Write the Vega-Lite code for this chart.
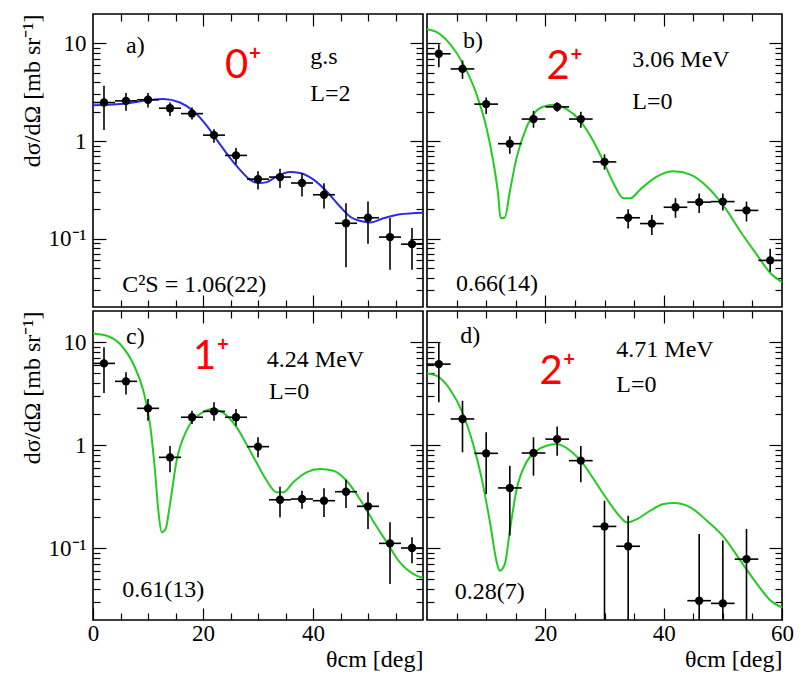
{
"$schema": "https://vega.github.io/schema/vega-lite/v6.json",
"background": "white",
"padding": {"left": 19, "top": 12, "right": 0, "bottom": 0},
"spacing": 0,
"config": {
  "view": {"stroke": "black", "strokeWidth": 1.6},
  "concat": {"spacing": 0},
  "axis": {"domain": false, "grid": false, "labelFont": "Liberation Serif", "titleFont": "Liberation Serif", "labelColor": "black", "titleColor": "black", "tickColor": "black", "tickWidth": 1.2, "titleFontWeight": "normal", "labelOverlap": false}
},
"datasets": {
"pts": [
{"p":"a","t":2,"t0":0,"t1":4,"v":2.48,"lo":1.30,"hi":3.69},
{"p":"a","t":6,"t0":4,"t1":8,"v":2.58,"lo":2.04,"hi":3.1},
{"p":"a","t":10,"t0":8,"t1":12,"v":2.65,"lo":2.2,"hi":3.1},
{"p":"a","t":14,"t0":12,"t1":16,"v":2.17,"lo":1.81,"hi":2.48},
{"p":"a","t":18,"t0":16,"t1":20,"v":1.91,"lo":1.66,"hi":2.2},
{"p":"a","t":22,"t0":20,"t1":24,"v":1.15,"lo":0.96,"hi":1.32},
{"p":"a","t":26,"t0":24,"t1":28,"v":0.713,"lo":0.58,"hi":0.85},
{"p":"a","t":30,"t0":28,"t1":32,"v":0.408,"lo":0.32,"hi":0.49},
{"p":"a","t":34,"t0":32,"t1":36,"v":0.428,"lo":0.33,"hi":0.52},
{"p":"a","t":38,"t0":36,"t1":40,"v":0.372,"lo":0.27,"hi":0.47},
{"p":"a","t":42,"t0":40,"t1":44,"v":0.282,"lo":0.204,"hi":0.37},
{"p":"a","t":46,"t0":44,"t1":48,"v":0.144,"lo":0.051,"hi":0.231},
{"p":"a","t":50,"t0":48,"t1":52,"v":0.164,"lo":0.089,"hi":0.24},
{"p":"a","t":54,"t0":52,"t1":56,"v":0.104,"lo":0.048,"hi":0.163},
{"p":"a","t":58,"t0":56,"t1":60,"v":0.088,"lo":0.048,"hi":0.129},
{"p":"b","t":2,"t0":0,"t1":4,"v":7.83,"lo":5.7,"hi":9.8},
{"p":"b","t":6,"t0":4,"t1":8,"v":5.48,"lo":4.33,"hi":6.68},
{"p":"b","t":10,"t0":8,"t1":12,"v":2.39,"lo":1.89,"hi":2.8},
{"p":"b","t":14,"t0":12,"t1":16,"v":0.94,"lo":0.74,"hi":1.12},
{"p":"b","t":18,"t0":16,"t1":20,"v":1.68,"lo":1.37,"hi":2.04},
{"p":"b","t":22,"t0":20,"t1":24,"v":2.24,"lo":2.0,"hi":2.5},
{"p":"b","t":26,"t0":24,"t1":28,"v":1.68,"lo":1.37,"hi":2.0},
{"p":"b","t":30,"t0":28,"t1":32,"v":0.612,"lo":0.51,"hi":0.73},
{"p":"b","t":34,"t0":32,"t1":36,"v":0.164,"lo":0.127,"hi":0.2},
{"p":"b","t":38,"t0":36,"t1":40,"v":0.143,"lo":0.109,"hi":0.175},
{"p":"b","t":42,"t0":40,"t1":44,"v":0.21,"lo":0.164,"hi":0.26},
{"p":"b","t":46,"t0":44,"t1":48,"v":0.237,"lo":0.183,"hi":0.29},
{"p":"b","t":50,"t0":48,"t1":52,"v":0.24,"lo":0.195,"hi":0.29},
{"p":"b","t":54,"t0":52,"t1":56,"v":0.195,"lo":0.15,"hi":0.24},
{"p":"b","t":58,"t0":56,"t1":60,"v":0.06,"lo":0.046,"hi":0.079},
{"p":"c","t":2,"t0":0,"t1":4,"v":6.2,"lo":3.2,"hi":8.9},
{"p":"c","t":6,"t0":4,"t1":8,"v":4.15,"lo":3.1,"hi":5.1},
{"p":"c","t":10,"t0":8,"t1":12,"v":2.27,"lo":1.72,"hi":2.8},
{"p":"c","t":14,"t0":12,"t1":16,"v":0.759,"lo":0.543,"hi":0.98},
{"p":"c","t":18,"t0":16,"t1":20,"v":1.86,"lo":1.6,"hi":2.15},
{"p":"c","t":22,"t0":20,"t1":24,"v":2.12,"lo":1.72,"hi":2.6},
{"p":"c","t":26,"t0":24,"t1":28,"v":1.86,"lo":1.54,"hi":2.24},
{"p":"c","t":30,"t0":28,"t1":32,"v":0.964,"lo":0.76,"hi":1.19},
{"p":"c","t":34,"t0":32,"t1":36,"v":0.294,"lo":0.199,"hi":0.394},
{"p":"c","t":38,"t0":36,"t1":40,"v":0.299,"lo":0.24,"hi":0.36},
{"p":"c","t":42,"t0":40,"t1":44,"v":0.288,"lo":0.2,"hi":0.38},
{"p":"c","t":46,"t0":44,"t1":48,"v":0.352,"lo":0.244,"hi":0.46},
{"p":"c","t":50,"t0":48,"t1":52,"v":0.254,"lo":0.153,"hi":0.347},
{"p":"c","t":54,"t0":52,"t1":56,"v":0.111,"lo":0.0447,"hi":0.178},
{"p":"c","t":58,"t0":56,"t1":60,"v":0.1,"lo":0.071,"hi":0.127},
{"p":"d","t":2,"t0":0,"t1":4,"v":6.1,"lo":2.6,"hi":10},
{"p":"d","t":6,"t0":4,"t1":8,"v":1.79,"lo":0.85,"hi":2.69},
{"p":"d","t":10,"t0":8,"t1":12,"v":0.83,"lo":0.334,"hi":1.33},
{"p":"d","t":14,"t0":12,"t1":16,"v":0.383,"lo":0.132,"hi":0.63},
{"p":"d","t":18,"t0":16,"t1":20,"v":0.836,"lo":0.504,"hi":1.19},
{"p":"d","t":22,"t0":20,"t1":24,"v":1.14,"lo":0.787,"hi":1.51},
{"p":"d","t":26,"t0":24,"t1":28,"v":0.705,"lo":0.434,"hi":0.98},
{"p":"d","t":30,"t0":28,"t1":32,"v":0.162,"lo":0.02,"hi":0.288},
{"p":"d","t":34,"t0":32,"t1":36,"v":0.104,"lo":0.02,"hi":0.206},
{"p":"d","t":46,"t0":44,"t1":48,"v":0.0308,"lo":0.02,"hi":0.137},
{"p":"d","t":50,"t0":48,"t1":52,"v":0.029,"lo":0.02,"hi":0.118},
{"p":"d","t":54,"t0":52,"t1":56,"v":0.078,"lo":0.02,"hi":0.153}
],
"curves": [
{"p":"a","t":0,"v":2.33},{"p":"a","t":6.12,"v":2.43},{"p":"a","t":10.36,"v":2.63},{"p":"a","t":12.8,"v":2.69},{"p":"a","t":15.8,"v":2.48},{"p":"a","t":18.2,"v":2.04},{"p":"a","t":20.7,"v":1.43},{"p":"a","t":23.1,"v":0.925},{"p":"a","t":24.9,"v":0.673},{"p":"a","t":26.7,"v":0.51},{"p":"a","t":28.5,"v":0.403},{"p":"a","t":30.1,"v":0.372},{"p":"a","t":31.6,"v":0.38},{"p":"a","t":33.4,"v":0.435},{"p":"a","t":35.8,"v":0.482},{"p":"a","t":37.6,"v":0.471},{"p":"a","t":40.1,"v":0.403},{"p":"a","t":42.5,"v":0.305},{"p":"a","t":44.9,"v":0.214},{"p":"a","t":46.7,"v":0.169},{"p":"a","t":49.1,"v":0.15},{"p":"a","t":50.4,"v":0.147},{"p":"a","t":52.8,"v":0.162},{"p":"a","t":55.8,"v":0.178},{"p":"a","t":60,"v":0.185},
{"p":"b","t":0,"v":14.0},{"p":"b","t":1.58,"v":13.1},{"p":"b","t":3.84,"v":9.93},{"p":"b","t":6.1,"v":6.17},{"p":"b","t":8.36,"v":3.03},{"p":"b","t":10.05,"v":1.37},{"p":"b","t":11.19,"v":0.622},{"p":"b","t":12.03,"v":0.282},{"p":"b","t":12.43,"v":0.162},{"p":"b","t":13.16,"v":0.165},{"p":"b","t":14.0,"v":0.305},{"p":"b","t":15.14,"v":0.673},{"p":"b","t":16.8,"v":1.37},{"p":"b","t":18.5,"v":2.04},{"p":"b","t":20.2,"v":2.3},{"p":"b","t":21.6,"v":2.35},{"p":"b","t":23.6,"v":2.12},{"p":"b","t":25.9,"v":1.61},{"p":"b","t":28.1,"v":1.0},{"p":"b","t":29.8,"v":0.622},{"p":"b","t":31.5,"v":0.372},{"p":"b","t":33.2,"v":0.26},{"p":"b","t":34.4,"v":0.26},{"p":"b","t":36.0,"v":0.318},{"p":"b","t":38.9,"v":0.435},{"p":"b","t":41.7,"v":0.491},{"p":"b","t":44.5,"v":0.453},{"p":"b","t":47.3,"v":0.343},{"p":"b","t":50.2,"v":0.214},{"p":"b","t":53.0,"v":0.118},{"p":"b","t":55.8,"v":0.068},{"p":"b","t":58.1,"v":0.044},{"p":"b","t":60,"v":0.036},
{"p":"c","t":0,"v":12.1},{"p":"c","t":2.48,"v":11.5},{"p":"c","t":4.9,"v":9.57},{"p":"c","t":7.33,"v":6.11},{"p":"c","t":9.15,"v":3.37},{"p":"c","t":10.36,"v":1.6},{"p":"c","t":11.27,"v":0.563},{"p":"c","t":11.88,"v":0.23},{"p":"c","t":12.48,"v":0.142},{"p":"c","t":13.2,"v":0.153},{"p":"c","t":14.0,"v":0.267},{"p":"c","t":15.2,"v":0.705},{"p":"c","t":17.0,"v":1.38},{"p":"c","t":19.45,"v":2.0},{"p":"c","t":21.9,"v":2.24},{"p":"c","t":24.3,"v":1.93},{"p":"c","t":26.1,"v":1.49},{"p":"c","t":27.9,"v":1.02},{"p":"c","t":29.7,"v":0.679},{"p":"c","t":31.6,"v":0.45},{"p":"c","t":33.4,"v":0.347},{"p":"c","t":34.6,"v":0.347},{"p":"c","t":36.4,"v":0.434},{"p":"c","t":38.8,"v":0.543},{"p":"c","t":41.3,"v":0.585},{"p":"c","t":43.7,"v":0.563},{"p":"c","t":46.1,"v":0.45},{"p":"c","t":48.5,"v":0.299},{"p":"c","t":50.9,"v":0.184},{"p":"c","t":53.4,"v":0.114},{"p":"c","t":55.8,"v":0.0726},{"p":"c","t":58.2,"v":0.056},{"p":"c","t":60,"v":0.051},
{"p":"d","t":0,"v":4.95},{"p":"d","t":1.58,"v":4.71},{"p":"d","t":3.84,"v":3.5},{"p":"d","t":6.1,"v":2.0},{"p":"d","t":7.8,"v":1.02},{"p":"d","t":9.2,"v":0.485},{"p":"d","t":10.6,"v":0.184},{"p":"d","t":11.86,"v":0.07},{"p":"d","t":12.3,"v":0.06},{"p":"d","t":13.16,"v":0.07},{"p":"d","t":14.0,"v":0.147},{"p":"d","t":15.1,"v":0.36},{"p":"d","t":16.8,"v":0.679},{"p":"d","t":18.5,"v":0.881},{"p":"d","t":20.2,"v":0.985},{"p":"d","t":21.9,"v":1.02},{"p":"d","t":24.2,"v":0.881},{"p":"d","t":26.4,"v":0.655},{"p":"d","t":28.7,"v":0.418},{"p":"d","t":31.0,"v":0.267},{"p":"d","t":32.7,"v":0.199},{"p":"d","t":33.8,"v":0.177},{"p":"d","t":35.5,"v":0.191},{"p":"d","t":37.7,"v":0.23},{"p":"d","t":40.0,"v":0.267},{"p":"d","t":41.7,"v":0.273},{"p":"d","t":44.5,"v":0.248},{"p":"d","t":47.3,"v":0.184},{"p":"d","t":50.2,"v":0.127},{"p":"d","t":53.0,"v":0.075},{"p":"d","t":55.8,"v":0.0447},{"p":"d","t":58.1,"v":0.0308},{"p":"d","t":60,"v":0.0265}
]
},
"vconcat": [
{"hconcat": [
{
 "width": 330, "height": 293,
 "resolve": {"axis": {"x": "independent", "y": "independent"}},
 "layer": [
  {"data": {"name": "curves"}, "transform": [{"filter": "datum.p=='a'"}],
   "mark": {"type": "line", "color": "#2b2be8", "strokeWidth": 2, "interpolate": "monotone", "clip": true},
   "encoding": {
    "x": {"field": "t", "type": "quantitative", "scale": {"domain": [0, 60], "nice": false, "zero": false},
          "axis": {"orient": "bottom", "values": [5,10,15,20,25,30,35,40,45,50,55], "tickSize": {"condition": {"test": "datum.value%20==0", "value": -12}, "value": -7}, "labels": false, "title": null, "minExtent": 0, "maxExtent": 0}},
    "y": {"field": "v", "type": "quantitative", "scale": {"type": "log", "domain": [0.02, 20], "nice": false},
          "axis": {"orient": "left", "values": [0.03,0.04,0.05,0.06,0.07,0.08,0.09,0.1,0.2,0.3,0.4,0.5,0.6,0.7,0.8,0.9,1,2,3,4,5,6,7,8,9,10], "tickSize": {"condition": {"test": "datum.value==0.1||datum.value==1||datum.value==10", "value": -13}, "value": -7}, "labelExpr": "datum.value==10?'10':datum.value==1?'1':datum.value==0.1?'10⁻¹':''", "labelFontSize": 23, "labelPadding": 20, "title": "dσ/dΩ [mb sr⁻¹]", "titleFontSize": 24, "titleAnchor": "end", "titlePadding": 4}}
   }},
  {"data": {"name": "pts"}, "transform": [{"filter": "datum.p=='a'"}],
   "mark": {"type": "rule", "color": "black", "strokeWidth": 1.6, "clip": true},
   "encoding": {
    "x": {"field": "t", "type": "quantitative", "axis": {"orient": "top", "values": [5,10,15,20,25,30,35,40,45,50,55], "tickSize": {"condition": {"test": "datum.value%20==0", "value": -12}, "value": -7}, "labels": false, "title": null, "minExtent": 0, "maxExtent": 0}},
    "y": {"field": "lo", "type": "quantitative", "axis": {"orient": "right", "values": [0.03,0.04,0.05,0.06,0.07,0.08,0.09,0.1,0.2,0.3,0.4,0.5,0.6,0.7,0.8,0.9,1,2,3,4,5,6,7,8,9,10], "tickSize": {"condition": {"test": "datum.value==0.1||datum.value==1||datum.value==10", "value": -13}, "value": -7}, "labels": false, "title": null, "minExtent": 0, "maxExtent": 0}},
    "y2": {"field": "hi"}
   }},
  {"data": {"name": "pts"}, "transform": [{"filter": "datum.p=='a'"}],
   "mark": {"type": "rule", "color": "black", "strokeWidth": 1.6, "clip": true},
   "encoding": {"x": {"field": "t0", "type": "quantitative", "axis": null}, "x2": {"field": "t1"}, "y": {"field": "v", "type": "quantitative", "axis": null}}},
  {"data": {"name": "pts"}, "transform": [{"filter": "datum.p=='a'"}],
   "mark": {"type": "circle", "color": "black", "size": 70, "opacity": 1, "clip": true},
   "encoding": {"x": {"field": "t", "type": "quantitative", "axis": null}, "y": {"field": "v", "type": "quantitative", "axis": null}}},
  {"data": {"values": [{}]}, "mark": {"type": "text", "font": "Liberation Serif", "fontSize": 24, "align": "left", "baseline": "middle", "color": "black"},
   "encoding": {"x": {"datum": 6, "type": "quantitative", "axis": null}, "y": {"datum": 9.5, "type": "quantitative", "axis": null}, "text": {"value": "a)"}}},
  {"data": {"values": [{}]}, "mark": {"type": "text", "font": "Lato", "fontSize": 40, "align": "left", "baseline": "alphabetic", "color": "#ff0000"},
   "encoding": {"x": {"datum": 24, "type": "quantitative", "axis": null}, "y": {"datum": 4.4, "type": "quantitative", "axis": null}, "text": {"value": "0⁺"}}},
  {"data": {"values": [{}]}, "mark": {"type": "text", "font": "Liberation Serif", "fontSize": 24, "align": "left", "baseline": "alphabetic", "color": "black"},
   "encoding": {"x": {"datum": 39.5, "type": "quantitative", "axis": null}, "y": {"datum": 6.2, "type": "quantitative", "axis": null}, "text": {"value": "g.s"}}},
  {"data": {"values": [{}]}, "mark": {"type": "text", "font": "Liberation Serif", "fontSize": 24, "align": "left", "baseline": "alphabetic", "color": "black"},
   "encoding": {"x": {"datum": 39.5, "type": "quantitative", "axis": null}, "y": {"datum": 2.58, "type": "quantitative", "axis": null}, "text": {"value": "L=2"}}},
  {"data": {"values": [{}]}, "mark": {"type": "text", "font": "Liberation Serif", "fontSize": 24, "align": "left", "baseline": "alphabetic", "color": "black"},
   "encoding": {"x": {"datum": 5.3, "type": "quantitative", "axis": null}, "y": {"datum": 0.0284, "type": "quantitative", "axis": null}, "text": {"value": "C²S = 1.06(22)"}}}
 ]
},
{
 "width": 355, "height": 293,
 "resolve": {"axis": {"x": "independent", "y": "independent"}},
 "layer": [
  {"data": {"name": "curves"}, "transform": [{"filter": "datum.p=='b'"}],
   "mark": {"type": "line", "color": "#22cc22", "strokeWidth": 2, "interpolate": "monotone", "clip": true},
   "encoding": {
    "x": {"field": "t", "type": "quantitative", "scale": {"domain": [0, 60], "nice": false, "zero": false},
          "axis": {"orient": "bottom", "values": [5,10,15,20,25,30,35,40,45,50,55], "tickSize": {"condition": {"test": "datum.value%20==0", "value": -12}, "value": -7}, "labels": false, "title": null, "minExtent": 0, "maxExtent": 0}},
    "y": {"field": "v", "type": "quantitative", "scale": {"type": "log", "domain": [0.02, 20], "nice": false},
          "axis": {"orient": "left", "values": [0.03,0.04,0.05,0.06,0.07,0.08,0.09,0.1,0.2,0.3,0.4,0.5,0.6,0.7,0.8,0.9,1,2,3,4,5,6,7,8,9,10], "tickSize": {"condition": {"test": "datum.value==0.1||datum.value==1||datum.value==10", "value": -13}, "value": -7}, "labels": false, "title": null, "minExtent": 0, "maxExtent": 0}}
   }},
  {"data": {"name": "pts"}, "transform": [{"filter": "datum.p=='b'"}],
   "mark": {"type": "rule", "color": "black", "strokeWidth": 1.6, "clip": true},
   "encoding": {
    "x": {"field": "t", "type": "quantitative", "axis": {"orient": "top", "values": [5,10,15,20,25,30,35,40,45,50,55], "tickSize": {"condition": {"test": "datum.value%20==0", "value": -12}, "value": -7}, "labels": false, "title": null, "minExtent": 0, "maxExtent": 0}},
    "y": {"field": "lo", "type": "quantitative", "axis": {"orient": "right", "values": [0.03,0.04,0.05,0.06,0.07,0.08,0.09,0.1,0.2,0.3,0.4,0.5,0.6,0.7,0.8,0.9,1,2,3,4,5,6,7,8,9,10], "tickSize": {"condition": {"test": "datum.value==0.1||datum.value==1||datum.value==10", "value": -13}, "value": -7}, "labels": false, "title": null, "minExtent": 0, "maxExtent": 0}},
    "y2": {"field": "hi"}
   }},
  {"data": {"name": "pts"}, "transform": [{"filter": "datum.p=='b'"}],
   "mark": {"type": "rule", "color": "black", "strokeWidth": 1.6, "clip": true},
   "encoding": {"x": {"field": "t0", "type": "quantitative", "axis": null}, "x2": {"field": "t1"}, "y": {"field": "v", "type": "quantitative", "axis": null}}},
  {"data": {"name": "pts"}, "transform": [{"filter": "datum.p=='b'"}],
   "mark": {"type": "circle", "color": "black", "size": 70, "opacity": 1, "clip": true},
   "encoding": {"x": {"field": "t", "type": "quantitative", "axis": null}, "y": {"field": "v", "type": "quantitative", "axis": null}}},
  {"data": {"values": [{}]}, "mark": {"type": "text", "font": "Liberation Serif", "fontSize": 24, "align": "left", "baseline": "middle", "color": "black"},
   "encoding": {"x": {"datum": 6.1, "type": "quantitative", "axis": null}, "y": {"datum": 10.7, "type": "quantitative", "axis": null}, "text": {"value": "b)"}}},
  {"data": {"values": [{}]}, "mark": {"type": "text", "font": "Lato", "fontSize": 40, "align": "left", "baseline": "alphabetic", "color": "#ff0000"},
   "encoding": {"x": {"datum": 20.2, "type": "quantitative", "axis": null}, "y": {"datum": 4.35, "type": "quantitative", "axis": null}, "text": {"value": "2⁺"}}},
  {"data": {"values": [{}]}, "mark": {"type": "text", "font": "Liberation Serif", "fontSize": 24, "align": "left", "baseline": "alphabetic", "color": "black"},
   "encoding": {"x": {"datum": 34.7, "type": "quantitative", "axis": null}, "y": {"datum": 5.7, "type": "quantitative", "axis": null}, "text": {"value": "3.06 MeV"}}},
  {"data": {"values": [{}]}, "mark": {"type": "text", "font": "Liberation Serif", "fontSize": 24, "align": "left", "baseline": "alphabetic", "color": "black"},
   "encoding": {"x": {"datum": 34.7, "type": "quantitative", "axis": null}, "y": {"datum": 2.12, "type": "quantitative", "axis": null}, "text": {"value": "L=0"}}},
  {"data": {"values": [{}]}, "mark": {"type": "text", "font": "Liberation Serif", "fontSize": 24, "align": "left", "baseline": "alphabetic", "color": "black"},
   "encoding": {"x": {"datum": 4.9, "type": "quantitative", "axis": null}, "y": {"datum": 0.0295, "type": "quantitative", "axis": null}, "text": {"value": "0.66(14)"}}}
 ]
}
]},
{"hconcat": [
{
 "width": 330, "height": 309,
 "resolve": {"axis": {"x": "independent", "y": "independent"}},
 "layer": [
  {"data": {"name": "curves"}, "transform": [{"filter": "datum.p=='c'"}],
   "mark": {"type": "line", "color": "#22cc22", "strokeWidth": 2, "interpolate": "monotone", "clip": true},
   "encoding": {
    "x": {"field": "t", "type": "quantitative", "scale": {"domain": [0, 60], "nice": false, "zero": false},
          "axis": {"orient": "bottom", "values": [0,5,10,15,20,25,30,35,40,45,50,55], "tickSize": {"condition": {"test": "datum.value%20==0", "value": -12}, "value": -7}, "labelExpr": "datum.value%20==0?datum.label:''", "labelFontSize": 23, "labelPadding": 14, "labelFlush": false, "title": "θcm [deg]", "titleFontSize": 24, "titleAnchor": "end", "titlePadding": -3}},
    "y": {"field": "v", "type": "quantitative", "scale": {"type": "log", "domain": [0.02, 20], "nice": false},
          "axis": {"orient": "left", "values": [0.03,0.04,0.05,0.06,0.07,0.08,0.09,0.1,0.2,0.3,0.4,0.5,0.6,0.7,0.8,0.9,1,2,3,4,5,6,7,8,9,10], "tickSize": {"condition": {"test": "datum.value==0.1||datum.value==1||datum.value==10", "value": -13}, "value": -7}, "labelExpr": "datum.value==10?'10':datum.value==1?'1':datum.value==0.1?'10⁻¹':''", "labelFontSize": 23, "labelPadding": 20, "title": "dσ/dΩ [mb sr⁻¹]", "titleFontSize": 24, "titleAnchor": "end", "titlePadding": 4}}
   }},
  {"data": {"name": "pts"}, "transform": [{"filter": "datum.p=='c'"}],
   "mark": {"type": "rule", "color": "black", "strokeWidth": 1.6, "clip": true},
   "encoding": {
    "x": {"field": "t", "type": "quantitative", "axis": {"orient": "top", "values": [5,10,15,20,25,30,35,40,45,50,55], "tickSize": {"condition": {"test": "datum.value%20==0", "value": -12}, "value": -7}, "labels": false, "title": null, "minExtent": 0, "maxExtent": 0}},
    "y": {"field": "lo", "type": "quantitative", "axis": {"orient": "right", "values": [0.03,0.04,0.05,0.06,0.07,0.08,0.09,0.1,0.2,0.3,0.4,0.5,0.6,0.7,0.8,0.9,1,2,3,4,5,6,7,8,9,10], "tickSize": {"condition": {"test": "datum.value==0.1||datum.value==1||datum.value==10", "value": -13}, "value": -7}, "labels": false, "title": null, "minExtent": 0, "maxExtent": 0}},
    "y2": {"field": "hi"}
   }},
  {"data": {"name": "pts"}, "transform": [{"filter": "datum.p=='c'"}],
   "mark": {"type": "rule", "color": "black", "strokeWidth": 1.6, "clip": true},
   "encoding": {"x": {"field": "t0", "type": "quantitative", "axis": null}, "x2": {"field": "t1"}, "y": {"field": "v", "type": "quantitative", "axis": null}}},
  {"data": {"name": "pts"}, "transform": [{"filter": "datum.p=='c'"}],
   "mark": {"type": "circle", "color": "black", "size": 70, "opacity": 1, "clip": true},
   "encoding": {"x": {"field": "t", "type": "quantitative", "axis": null}, "y": {"field": "v", "type": "quantitative", "axis": null}}},
  {"data": {"values": [{}]}, "mark": {"type": "text", "font": "Liberation Serif", "fontSize": 24, "align": "left", "baseline": "middle", "color": "black"},
   "encoding": {"x": {"datum": 6, "type": "quantitative", "axis": null}, "y": {"datum": 11.2, "type": "quantitative", "axis": null}, "text": {"value": "c)"}}},
  {"data": {"values": [{}]}, "mark": {"type": "text", "font": "Lato", "fontSize": 40, "align": "left", "baseline": "alphabetic", "color": "#ff0000"},
   "encoding": {"x": {"datum": 18.2, "type": "quantitative", "axis": null}, "y": {"datum": 5.5, "type": "quantitative", "axis": null}, "text": {"value": "1⁺"}}},
  {"data": {"values": [{}]}, "mark": {"type": "text", "font": "Liberation Serif", "fontSize": 24, "align": "left", "baseline": "alphabetic", "color": "black"},
   "encoding": {"x": {"datum": 31.6, "type": "quantitative", "axis": null}, "y": {"datum": 5.7, "type": "quantitative", "axis": null}, "text": {"value": "4.24 MeV"}}},
  {"data": {"values": [{}]}, "mark": {"type": "text", "font": "Liberation Serif", "fontSize": 24, "align": "left", "baseline": "alphabetic", "color": "black"},
   "encoding": {"x": {"datum": 32, "type": "quantitative", "axis": null}, "y": {"datum": 2.8, "type": "quantitative", "axis": null}, "text": {"value": "L=0"}}},
  {"data": {"values": [{}]}, "mark": {"type": "text", "font": "Liberation Serif", "fontSize": 24, "align": "left", "baseline": "alphabetic", "color": "black"},
   "encoding": {"x": {"datum": 5.3, "type": "quantitative", "axis": null}, "y": {"datum": 0.0334, "type": "quantitative", "axis": null}, "text": {"value": "0.61(13)"}}}
 ]
},
{
 "width": 355, "height": 309,
 "resolve": {"axis": {"x": "independent", "y": "independent"}},
 "layer": [
  {"data": {"name": "curves"}, "transform": [{"filter": "datum.p=='d'"}],
   "mark": {"type": "line", "color": "#22cc22", "strokeWidth": 2, "interpolate": "monotone", "clip": true},
   "encoding": {
    "x": {"field": "t", "type": "quantitative", "scale": {"domain": [0, 60], "nice": false, "zero": false},
          "axis": {"orient": "bottom", "values": [5,10,15,20,25,30,35,40,45,50,55,60], "tickSize": {"condition": {"test": "datum.value%20==0", "value": -12}, "value": -7}, "labelExpr": "datum.value%20==0?datum.label:''", "labelFontSize": 23, "labelPadding": 14, "labelFlush": false, "title": "θcm [deg]", "titleFontSize": 24, "titleAnchor": "end", "titlePadding": -3}},
    "y": {"field": "v", "type": "quantitative", "scale": {"type": "log", "domain": [0.02, 20], "nice": false},
          "axis": {"orient": "left", "values": [0.03,0.04,0.05,0.06,0.07,0.08,0.09,0.1,0.2,0.3,0.4,0.5,0.6,0.7,0.8,0.9,1,2,3,4,5,6,7,8,9,10], "tickSize": {"condition": {"test": "datum.value==0.1||datum.value==1||datum.value==10", "value": -13}, "value": -7}, "labels": false, "title": null, "minExtent": 0, "maxExtent": 0}}
   }},
  {"data": {"name": "pts"}, "transform": [{"filter": "datum.p=='d'"}],
   "mark": {"type": "rule", "color": "black", "strokeWidth": 1.6, "clip": true},
   "encoding": {
    "x": {"field": "t", "type": "quantitative", "axis": {"orient": "top", "values": [5,10,15,20,25,30,35,40,45,50,55], "tickSize": {"condition": {"test": "datum.value%20==0", "value": -12}, "value": -7}, "labels": false, "title": null, "minExtent": 0, "maxExtent": 0}},
    "y": {"field": "lo", "type": "quantitative", "axis": {"orient": "right", "values": [0.03,0.04,0.05,0.06,0.07,0.08,0.09,0.1,0.2,0.3,0.4,0.5,0.6,0.7,0.8,0.9,1,2,3,4,5,6,7,8,9,10], "tickSize": {"condition": {"test": "datum.value==0.1||datum.value==1||datum.value==10", "value": -13}, "value": -7}, "labels": false, "title": null, "minExtent": 0, "maxExtent": 0}},
    "y2": {"field": "hi"}
   }},
  {"data": {"name": "pts"}, "transform": [{"filter": "datum.p=='d'"}],
   "mark": {"type": "rule", "color": "black", "strokeWidth": 1.6, "clip": true},
   "encoding": {"x": {"field": "t0", "type": "quantitative", "axis": null}, "x2": {"field": "t1"}, "y": {"field": "v", "type": "quantitative", "axis": null}}},
  {"data": {"name": "pts"}, "transform": [{"filter": "datum.p=='d'"}],
   "mark": {"type": "circle", "color": "black", "size": 70, "opacity": 1, "clip": true},
   "encoding": {"x": {"field": "t", "type": "quantitative", "axis": null}, "y": {"field": "v", "type": "quantitative", "axis": null}}},
  {"data": {"values": [{}]}, "mark": {"type": "text", "font": "Liberation Serif", "fontSize": 24, "align": "left", "baseline": "middle", "color": "black"},
   "encoding": {"x": {"datum": 5.6, "type": "quantitative", "axis": null}, "y": {"datum": 11.4, "type": "quantitative", "axis": null}, "text": {"value": "d)"}}},
  {"data": {"values": [{}]}, "mark": {"type": "text", "font": "Lato", "fontSize": 40, "align": "left", "baseline": "alphabetic", "color": "#ff0000"},
   "encoding": {"x": {"datum": 19, "type": "quantitative", "axis": null}, "y": {"datum": 3.9, "type": "quantitative", "axis": null}, "text": {"value": "2⁺"}}},
  {"data": {"values": [{}]}, "mark": {"type": "text", "font": "Liberation Serif", "fontSize": 24, "align": "left", "baseline": "alphabetic", "color": "black"},
   "encoding": {"x": {"datum": 32, "type": "quantitative", "axis": null}, "y": {"datum": 7.1, "type": "quantitative", "axis": null}, "text": {"value": "4.71 MeV"}}},
  {"data": {"values": [{}]}, "mark": {"type": "text", "font": "Liberation Serif", "fontSize": 24, "align": "left", "baseline": "alphabetic", "color": "black"},
   "encoding": {"x": {"datum": 32, "type": "quantitative", "axis": null}, "y": {"datum": 3.27, "type": "quantitative", "axis": null}, "text": {"value": "L=0"}}},
  {"data": {"values": [{}]}, "mark": {"type": "text", "font": "Liberation Serif", "fontSize": 24, "align": "left", "baseline": "alphabetic", "color": "black"},
   "encoding": {"x": {"datum": 4.7, "type": "quantitative", "axis": null}, "y": {"datum": 0.032, "type": "quantitative", "axis": null}, "text": {"value": "0.28(7)"}}}
 ]
}
]}
]
}
